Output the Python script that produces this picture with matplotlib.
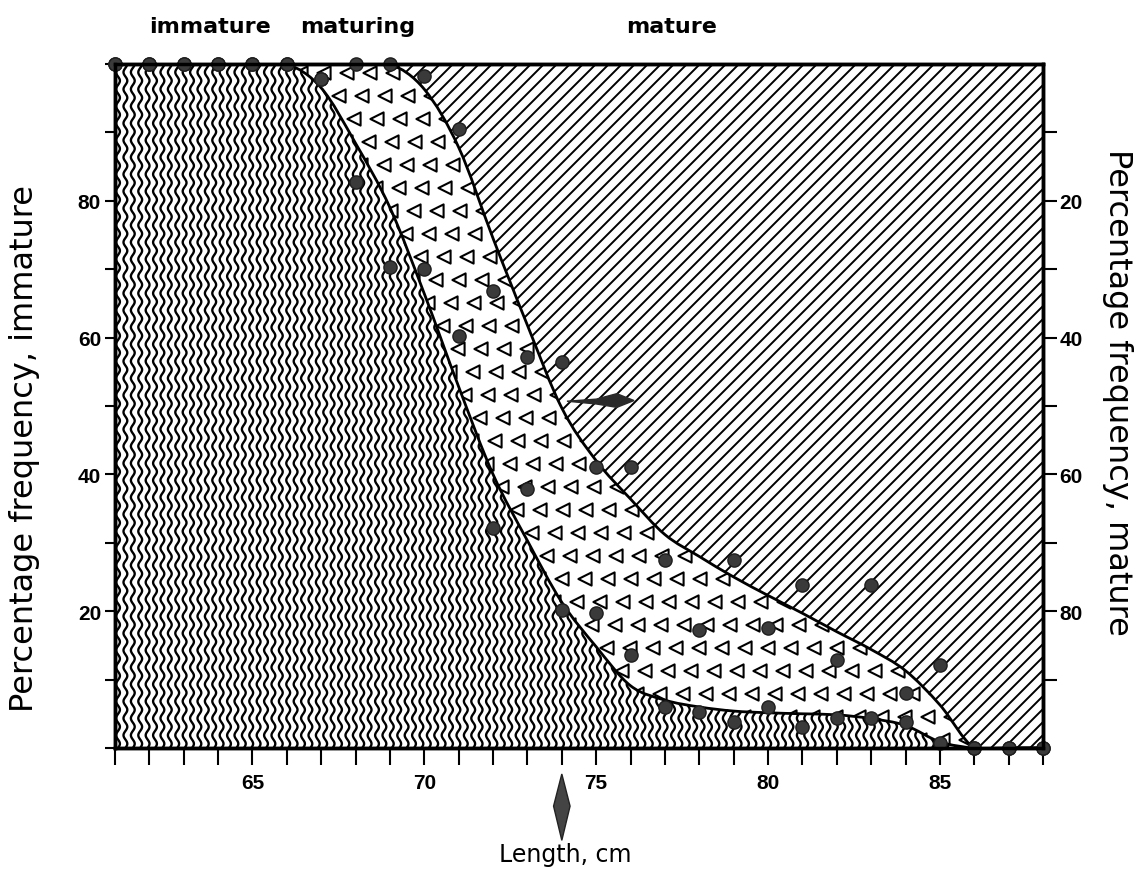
import numpy as np
import matplotlib
matplotlib.use("Agg")
import matplotlib.pyplot as plt
from matplotlib.collections import LineCollection
from matplotlib.patches import Polygon, PathPatch
from matplotlib.path import Path
import matplotlib.transforms as mtransforms

plt.rcParams['font.family'] = ['Liberation Sans', 'DejaVu Sans']

# length classes, cm
lengths = list(range(61, 89))
# fitted curves: % immature and % mature at each length
curve_immature = [100, 100, 100, 100, 100, 100, 96.5, 88.4, 79, 66.4, 52.8, 40, 30.3, 21.3,
                  14.8, 9.1, 7.0, 6.0, 5.4, 5.15, 5.0, 4.85, 4.3, 3.3, 0.9, 0, 0, 0]
curve_mature = [0, 0, 0, 0, 0, 0, 0, 0, 0, 3.7, 12.2, 25.5, 38.2, 50.3,
                58, 63.6, 68.8, 72, 75, 77.7, 80.3, 83, 85.6, 88.7, 93.7, 100, 100, 100]
# observed values
dots_immature = [100, 100, 100, 100, 100, 100, 97.8, 82.7, 70.3, 70, 60.2, 32.2, 37.8, 20.2,
                 19.7, 13.6, 6.0, 5.3, 3.8, 6.0, 3.1, 4.4, 4.4, 3.8, 0.7, 0, 0, 0]
dots_mature = [0, 0, 0, 0, 0, 0, 2.2, 0, 0, 1.8, 9.5, 33.2, 42.9, 43.6,
               58.9, 58.9, 72.5, 82.7, 72.5, 82.4, 76.1, 87.2, 76.1, 92, 87.8, 100, 100, 100]

x = np.array(lengths, dtype=float)
low = np.array(curve_immature)
up = 100 - np.array(curve_mature)


def bezier_verts(xs, ys):
    # smooth curve through the points (Catmull-Rom as cubic Bezier)
    p = np.column_stack([xs, ys])
    n = len(p)
    verts = [p[0]]
    for i in range(n - 1):
        p0 = p[max(i - 1, 0)]
        p3 = p[min(i + 2, n - 1)]
        verts.append(p[i] + (p[i + 1] - p0) / 6.0)
        verts.append(p[i + 1] - (p3 - p[i]) / 6.0)
        verts.append(p[i + 1])
    return np.array(verts)


def curve_codes(nv):
    return [Path.MOVETO] + [Path.CURVE4] * (nv - 1)


low_v = bezier_verts(x, low)
up_v = bezier_verts(x, up)

fig = plt.figure(figsize=(11.45, 8.7), dpi=100)
ax = fig.add_axes([115 / 1145, 1 - 749 / 870, 928 / 1145, 684 / 870])
ax.set_xlim(61, 88)
ax.set_ylim(0, 100)

W = ax.bbox.width
H = ax.bbox.height
pxc = W / 27.0
pxp = H / 100.0

# regions
c4 = Path.CURVE4
imm_path = Path(np.vstack([low_v, [(88, 0), (61, 0), (61, 0)]]),
                curve_codes(len(low_v)) + [Path.LINETO, Path.LINETO, Path.CLOSEPOLY])
mid_path = Path(np.vstack([up_v, low_v[::-1], [up_v[0]]]),
                curve_codes(len(up_v)) + [Path.LINETO] + [c4] * (len(low_v) - 1) + [Path.CLOSEPOLY])
mat_path = Path(np.vstack([up_v, [(88, 100), (61, 100), (61, 100)]]),
                curve_codes(len(up_v)) + [Path.LINETO, Path.LINETO, Path.CLOSEPOLY])
imm_patch = PathPatch(imm_path, facecolor='none', edgecolor='none')
mid_patch = PathPatch(mid_path, facecolor='none', edgecolor='none')
mat_patch = PathPatch(mat_path, facecolor='none', edgecolor='none')
for p in (imm_patch, mid_patch, mat_patch):
    ax.add_patch(p)

# wavy vertical lines (immature)
ys = np.arange(0, H + 1, 0.5)
segs = []
for x0 in np.arange(3, W, 7.4):
    xs = x0 + 1.9 * np.sin(2 * np.pi * ys / 17.0)
    segs.append(np.column_stack([61 + xs / pxc, ys / pxp]))
lc = LineCollection(segs, colors='black', linewidths=1.7)
ax.add_collection(lc)
lc.set_clip_path(imm_patch)

# diagonal hatch (mature)
segs = []
for c in np.arange(-H, W, 13.0):
    segs.append([(61 + c / pxc, 0), (61 + (c + H) / pxc, 100)])
lc2 = LineCollection(segs, colors='black', linewidths=1.4)
ax.add_collection(lc2)
lc2.set_clip_path(mat_patch)

# open triangles (maturing)
tx, ty = [], []
for j, yp in enumerate(np.arange(8, H, 23.0)):
    for xp in np.arange((j * 8) % 23, W, 23.0):
        tx.append(61 + xp / pxc)
        ty.append(yp / pxp)
sc = ax.scatter(tx, ty, marker='<', s=90, facecolors='none', edgecolors='black', linewidths=1.5)
sc.set_clip_path(mid_patch)

ax.add_patch(PathPatch(Path(low_v, curve_codes(len(low_v))), facecolor='none',
                       edgecolor='black', lw=2.0, zorder=4))
ax.add_patch(PathPatch(Path(up_v, curve_codes(len(up_v))), facecolor='none',
                       edgecolor='black', lw=2.0, zorder=4))

ax.plot(x, dots_immature, 'o', ms=9.5, mfc='#3a3a3a', mec='#1e1e1e', zorder=5, clip_on=False)
ax.plot(x, 100 - np.array(dots_mature), 'o', ms=9.5, mfc='#3a3a3a', mec='#1e1e1e', zorder=5, clip_on=False)

# arrows
ax.add_patch(Polygon([(74.15, 50.7), (75.0, 51.0), (75.6, 51.8), (76.1, 50.8),
                      (75.6, 49.8), (75.0, 50.3)], closed=True,
                     facecolor='#2a2a2a', edgecolor='#2a2a2a', zorder=6))
trans = mtransforms.blended_transform_factory(ax.transData, ax.transAxes)
ax.add_patch(Polygon([(74.0, -0.038), (74.24, -0.085), (74.0, -0.135), (73.76, -0.085)],
                     closed=True, transform=trans, clip_on=False,
                     facecolor='#444444', edgecolor='#222222'))

for s in ax.spines.values():
    s.set_linewidth(2.5)

ax.set_xticks(lengths)
ax.set_xticklabels([str(v) if v % 5 == 0 else '' for v in lengths],
                   fontsize=15, fontweight='bold')
ax.tick_params(axis='x', direction='out', length=12, width=1.5, pad=6)
yt = list(range(0, 101, 10))
ax.set_yticks(yt)
ax.set_yticklabels([str(v) if v in (20, 40, 60, 80) else '' for v in yt],
                   fontsize=15, fontweight='bold')
ax.tick_params(axis='y', direction='out', length=7, width=1.5, pad=3)

ax2 = ax.twinx()
ax2.set_ylim(100, 0)
yt2 = list(range(10, 100, 10))
ax2.set_yticks(yt2)
ax2.set_yticklabels([str(v) if v in (20, 40, 60, 80) else '' for v in yt2],
                    fontsize=15, fontweight='bold')
ax2.tick_params(axis='y', direction='out', length=10, width=1.5, pad=2)
for s in ax2.spines.values():
    s.set_linewidth(2.5)

top_font = dict(ha='center', va='center', fontsize=16, fontweight='bold', family=['DejaVu Sans'])
fig.text(210 / 1145, 1 - 27 / 870, 'immature', **top_font)
fig.text(358 / 1145, 1 - 27 / 870, 'maturing', **top_font)
fig.text(672 / 1145, 1 - 27 / 870, 'mature', **top_font)
fig.text(25 / 1145, 1 - 448 / 870, 'Percentage frequency, immature', rotation=90,
         ha='center', va='center', fontsize=23, family=['DejaVu Sans'])
fig.text(1117 / 1145, 1 - 392 / 870, 'Percentage frequency, mature', rotation=270,
         ha='center', va='center', fontsize=23, family=['DejaVu Sans'])
fig.text(565 / 1145, 1 - 855 / 870, 'Length, cm', ha='center', va='center', fontsize=17,
         family=['DejaVu Sans'])

fig.savefig('out.png', dpi=100)
